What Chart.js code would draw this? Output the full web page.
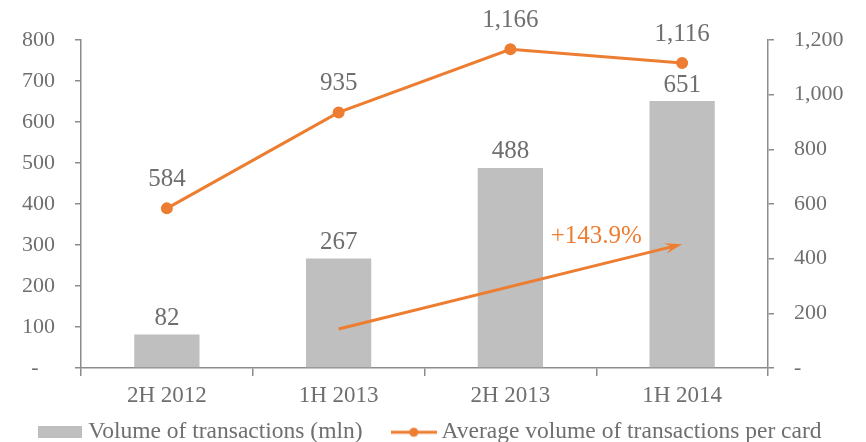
<!DOCTYPE html>
<html>
<head>
<meta charset="utf-8">
<script src="https://cdn.jsdelivr.net/npm/chart.js@4"></script>
<style>
  html, body { margin: 0; padding: 0; background: #fff; }
  #chart { display: block; }
</style>
</head>
<body>
<canvas id="chart" width="866" height="442"></canvas>
<script>
const periods = ['2H 2012', '1H 2013', '2H 2013', '1H 2014'];
const volumeMln = [82, 267, 488, 651];
const avgPerCard = [584, 935, 1166, 1116];
// growth arrow, in category index / left-axis units
const growthFrom = [1, 95];
const growthTo = [3, 302];
const growthLabel = '+143.9%';
const growthLabelAt = [2.5, 320];

const ORANGE = '#ED7D31';
const GREY_BAR = '#BFBFBF';
const AXIS = '#8c8c8c';
const TEXT = '#6f6f6f';
const FONT = "'Liberation Serif', 'Times New Roman', serif";

const fmt = v => v.toLocaleString('en-US');

// legend markers: wide grey block and an orange line with a dot
function barMarker() {
    const c = document.createElement('canvas');
    c.width = 44; c.height = 12;
    const g = c.getContext('2d');
    g.fillStyle = GREY_BAR;
    g.fillRect(0, 0, 44, 12);
    return c;
}
function lineMarker() {
    const c = document.createElement('canvas');
    c.width = 46; c.height = 12;
    const g = c.getContext('2d');
    g.strokeStyle = ORANGE; g.lineWidth = 3;
    g.beginPath(); g.moveTo(0, 6); g.lineTo(46, 6); g.stroke();
    g.fillStyle = ORANGE;
    g.beginPath(); g.arc(23, 6, 4.5, 0, Math.PI * 2); g.fill();
    return c;
}

const valueLabels = {
    id: 'valueLabels',
    afterDatasetsDraw(chart) {
        const ctx = chart.ctx;
        ctx.save();
        ctx.font = `25px ${FONT}`;
        ctx.fillStyle = TEXT;
        ctx.textAlign = 'center';
        ctx.textBaseline = 'middle';
        chart.getDatasetMeta(0).data.forEach((bar, i) => {
            ctx.fillText(fmt(volumeMln[i]), bar.x, bar.y - 16);
        });
        chart.getDatasetMeta(1).data.forEach((pt, i) => {
            ctx.fillText(fmt(avgPerCard[i]), pt.x, pt.y - 29);
        });
        ctx.restore();
    }
};

const growthArrow = {
    id: 'growthArrow',
    afterDatasetsDraw(chart) {
        const x = chart.scales.x, y = chart.scales.y;
        const x0 = x.getPixelForValue(growthFrom[0]), y0 = y.getPixelForValue(growthFrom[1]);
        const x1 = x.getPixelForValue(growthTo[0]), y1 = y.getPixelForValue(growthTo[1]);
        const ctx = chart.ctx;
        const ang = Math.atan2(y1 - y0, x1 - x0);
        const head = 18;
        ctx.save();
        ctx.strokeStyle = ORANGE;
        ctx.fillStyle = ORANGE;
        ctx.lineWidth = 3;
        ctx.beginPath();
        ctx.moveTo(x0, y0);
        ctx.lineTo(x1 - Math.cos(ang) * 8, y1 - Math.sin(ang) * 8);
        ctx.stroke();
        ctx.beginPath();
        ctx.moveTo(x1, y1);
        ctx.lineTo(x1 - head * Math.cos(ang - 0.3), y1 - head * Math.sin(ang - 0.3));
        ctx.lineTo(x1 - head * 0.6 * Math.cos(ang), y1 - head * 0.6 * Math.sin(ang));
        ctx.lineTo(x1 - head * Math.cos(ang + 0.3), y1 - head * Math.sin(ang + 0.3));
        ctx.closePath();
        ctx.fill();
        ctx.font = `25px ${FONT}`;
        ctx.textAlign = 'center';
        ctx.textBaseline = 'middle';
        ctx.fillText(growthLabel, x.getPixelForValue(growthLabelAt[0]), y.getPixelForValue(growthLabelAt[1]));
        ctx.restore();
    }
};

const axisGrid = {
    drawOnChartArea: false,
    drawTicks: true,
    tickLength: 6,
    color: AXIS,
    lineWidth: 1.5
};
const tickFont = { family: FONT, size: 22 };

new Chart(document.getElementById('chart'), {
    data: {
        labels: periods,
        datasets: [
            {
                type: 'bar',
                label: 'Volume of transactions (mln)',
                data: volumeMln,
                backgroundColor: GREY_BAR,
                barPercentage: 0.38,
                categoryPercentage: 1,
                yAxisID: 'y',
                order: 2
            },
            {
                type: 'line',
                label: 'Average volume of transactions per card',
                data: avgPerCard,
                borderColor: ORANGE,
                backgroundColor: ORANGE,
                borderWidth: 3,
                pointRadius: 4.5,
                pointBackgroundColor: ORANGE,
                tension: 0,
                yAxisID: 'y2',
                order: 1
            }
        ]
    },
    options: {
        responsive: false,
        animation: false,
        // legend box carries a fixed 10px tail, pull it below the canvas edge
        layout: { padding: { top: 40, left: 0, right: 0, bottom: -12 } },
        plugins: {
            tooltip: { enabled: false },
            legend: {
                position: 'bottom',
                labels: {
                    font: { family: FONT, size: 23.5, lineHeight: 1 },
                    color: TEXT,
                    usePointStyle: true,
                    pointStyleWidth: 32,
                    padding: 0,
                    generateLabels: () => [
                        { text: 'Volume of transactions (mln)      ', pointStyle: barMarker(), fontColor: TEXT, lineWidth: 0, datasetIndex: 0 },
                        { text: 'Average volume of transactions per card', pointStyle: lineMarker(), fontColor: TEXT, lineWidth: 0, datasetIndex: 1 }
                    ]
                }
            }
        },
        scales: {
            x: {
                grid: { ...axisGrid, tickLength: 8 },
                border: { color: AXIS, width: 1.5 },
                ticks: { font: { ...tickFont, size: 23 }, color: TEXT, padding: 6 },
                afterFit: s => { s.height = 52.5; }
            },
            y: {
                position: 'left',
                min: 0, max: 800,
                grid: axisGrid,
                border: { color: AXIS, width: 1.5 },
                ticks: {
                    stepSize: 100, font: tickFont, color: TEXT, padding: 20,
                    callback: v => v === 0 ? '-   ' : fmt(v)
                },
                afterFit: s => { s.width = 81; }
            },
            y2: {
                position: 'right',
                min: 0, max: 1200,
                grid: axisGrid,
                border: { color: AXIS, width: 1.5 },
                ticks: {
                    stepSize: 200, font: tickFont, color: TEXT, padding: 20,
                    callback: v => v === 0 ? '-' : fmt(v)
                },
                afterFit: s => { s.width = 98; }
            }
        }
    },
    plugins: [valueLabels, growthArrow]
});
</script>
</body>
</html>
